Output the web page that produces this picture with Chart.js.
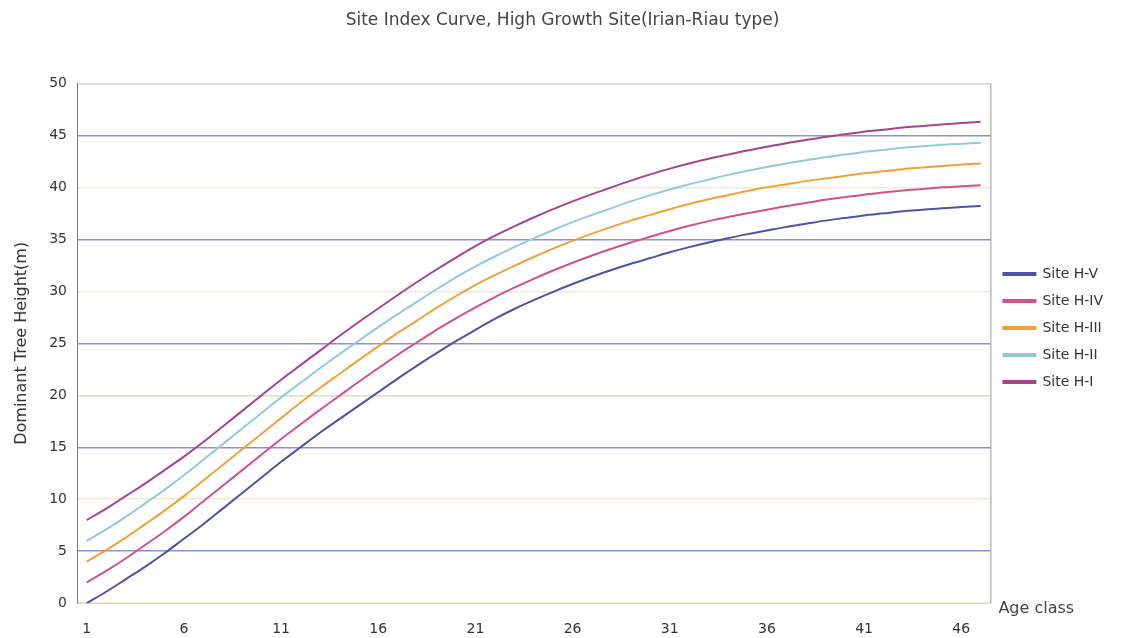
<!DOCTYPE html>
<html>
<head>
<meta charset="utf-8">
<title>Site Index Curve</title>
<script src="https://cdn.jsdelivr.net/npm/chart.js@4/dist/chart.umd.min.js"></script>
<style>
    html, body { margin: 0; padding: 0; background: #fff; }
    #wrap { width: 1135px; height: 638px; position: relative; }
</style>
</head>
<body>
<div id="wrap"><canvas id="site-index-chart"></canvas></div>
<script>
// Age classes 1..47
const ageClasses = [
    1, 2, 3, 4, 5, 6, 7, 8, 9, 10, 11, 12, 13, 14, 15, 16, 17, 18, 19, 20,
    21, 22, 23, 24, 25, 26, 27, 28, 29, 30, 31, 32, 33, 34, 35, 36, 37, 38,
    39, 40, 41, 42, 43, 44, 45, 46, 47,
];

const siteHV = [
    0.0, 1.1, 2.3, 3.5, 4.8, 6.2, 7.6, 9.1, 10.6, 12.1, 13.6, 15.0, 16.4,
    17.7, 19.0, 20.3, 21.6, 22.85, 24.05, 25.2, 26.3, 27.35, 28.3, 29.15,
    29.95, 30.7, 31.4, 32.05, 32.65, 33.2, 33.75, 34.25, 34.7, 35.1, 35.5,
    35.85, 36.2, 36.5, 36.8, 37.05, 37.3, 37.5, 37.7, 37.85, 38.0, 38.1, 38.2,
];
const siteHIV = [
    2.0, 3.1, 4.3, 5.6, 6.9, 8.3, 9.8, 11.3, 12.8, 14.3, 15.8, 17.2, 18.6,
    19.95, 21.3, 22.6, 23.9, 25.1, 26.3, 27.4, 28.45, 29.45, 30.35, 31.2,
    32.0, 32.75, 33.45, 34.1, 34.7, 35.25, 35.8, 36.3, 36.75, 37.15, 37.5,
    37.85, 38.2, 38.5, 38.8, 39.05, 39.3, 39.5, 39.7, 39.85, 40.0, 40.1, 40.2,
];
const siteHIII = [
    4.0, 5.1, 6.3, 7.6, 8.9, 10.3, 11.8, 13.3, 14.8, 16.3, 17.8, 19.3, 20.7,
    22.05, 23.4, 24.7, 26.0, 27.2, 28.4, 29.55, 30.6, 31.55, 32.45, 33.3,
    34.1, 34.85, 35.55, 36.2, 36.8, 37.35, 37.9, 38.4, 38.85, 39.25, 39.65,
    40.0, 40.3, 40.6, 40.85, 41.1, 41.35, 41.55, 41.75, 41.9, 42.05, 42.2, 42.3,
];
const siteHII = [
    6.0, 7.1, 8.3, 9.6, 10.9, 12.3, 13.8, 15.3, 16.8, 18.3, 19.8, 21.2, 22.6,
    23.95, 25.25, 26.55, 27.8, 29.0, 30.2, 31.35, 32.4, 33.35, 34.25, 35.1,
    35.9, 36.65, 37.35, 38.0, 38.65, 39.25, 39.8, 40.3, 40.75, 41.2, 41.6,
    41.95, 42.3, 42.6, 42.9, 43.15, 43.4, 43.6, 43.8, 43.95, 44.1, 44.2, 44.3,
];
const siteHI = [
    8.0, 9.1, 10.3, 11.5, 12.8, 14.1, 15.5, 17.0, 18.5, 20.0, 21.5, 22.9,
    24.3, 25.7, 27.05, 28.35, 29.65, 30.9, 32.1, 33.25, 34.35, 35.35, 36.25,
    37.1, 37.9, 38.65, 39.35, 40.0, 40.65, 41.25, 41.8, 42.3, 42.75, 43.15,
    43.55, 43.9, 44.25, 44.55, 44.85, 45.1, 45.35, 45.55, 45.75, 45.9, 46.05,
    46.2, 46.3,
];

const seriesNames = ["Site H-V", "Site H-IV", "Site H-III", "Site H-II", "Site H-I"];
const seriesValues = [siteHV, siteHIV, siteHIII, siteHII, siteHI];
const seriesColors = ["#4f53a6", "#d2508f", "#f2a13a", "#93cada", "#a8438c"];

const heightTicks = [0, 5, 10, 15, 20, 25, 30, 35, 40, 45, 50];

(function () {
    "use strict";

    const font = "'DejaVu Sans', 'Liberation Sans', sans-serif";

    // frame on the right edge plus the "Age class" caption
    const frameAndCaption = {
        id: "frameAndCaption",
        afterDraw(chart) {
            const { ctx, chartArea } = chart;
            ctx.save();
            ctx.strokeStyle = "#9a9a9a";
            ctx.lineWidth = 1;
            ctx.beginPath();
            ctx.moveTo(chartArea.right + 0.5, chartArea.top);
            ctx.lineTo(chartArea.right + 0.5, chartArea.bottom);
            ctx.stroke();
            ctx.fillStyle = "#444";
            ctx.font = "16px " + font;
            ctx.textBaseline = "middle";
            ctx.fillText("Age class", chartArea.right + 8, chartArea.bottom + 6);
            ctx.restore();
        },
    };

    const gridColor = (c) => {
        if (!c.tick) return "#eee";
        const v = c.tick.value;
        if (v === 50) return "#d9d9d9";
        if (v === 20) return "#e9dcae";
        return v % 10 === 5 ? "#8c90dc" : "#f2e9cf";
    };

    const ctx = document.getElementById("site-index-chart").getContext("2d");
    new Chart(ctx, {
        type: "line",
        data: {
            labels: ageClasses,
            datasets: seriesNames.map((name, i) => ({
                label: name,
                data: seriesValues[i],
                borderColor: seriesColors[i],
                backgroundColor: seriesColors[i],
                borderWidth: 2,
                pointRadius: 0,
                cubicInterpolationMode: "monotone",
            })),
        },
        options: {
            responsive: true,
            maintainAspectRatio: false,
            animation: false,
            layout: {
                padding: { left: 12, right: 22, top: 0, bottom: -18 },
            },
            plugins: {
                title: {
                    display: true,
                    text: "Site Index Curve, High Growth Site(Irian-Riau type)",
                    color: "#444",
                    font: { family: font, size: 17, weight: "normal" },
                    padding: { top: 10, bottom: 53 },
                },
                legend: {
                    position: "right",
                    labels: {
                        boxWidth: 32,
                        boxHeight: 2,
                        padding: 13,
                        color: "#333",
                        font: { family: font, size: 14 },
                    },
                },
                tooltip: { enabled: false },
            },
            scales: {
                x: {
                    offset: true,
                    grid: { display: false, drawTicks: false },
                    border: { color: "#e6d3a8" },
                    ticks: {
                        autoSkip: false,
                        maxRotation: 0,
                        padding: 18,
                        color: "#333",
                        font: { family: font, size: 14 },
                        callback: (val, index) =>
                            index % 5 === 0 ? ageClasses[index] : "",
                    },
                },
                y: {
                    min: 0,
                    max: 50,
                    afterBuildTicks: (axis) => {
                        axis.ticks = heightTicks.map((v) => ({ value: v }));
                    },
                    grid: {
                        drawTicks: false,
                        lineWidth: 1.5,
                        color: gridColor,
                    },
                    border: { color: "#777" },
                    ticks: {
                        padding: 10,
                        color: "#333",
                        font: { family: font, size: 14 },
                    },
                    title: {
                        display: true,
                        text: "Dominant Tree Height(m)",
                        color: "#333",
                        font: { family: font, size: 16 },
                        padding: { top: 0, bottom: 8 },
                    },
                },
            },
        },
        plugins: [frameAndCaption],
    });
})();
</script>
</body>
</html>
